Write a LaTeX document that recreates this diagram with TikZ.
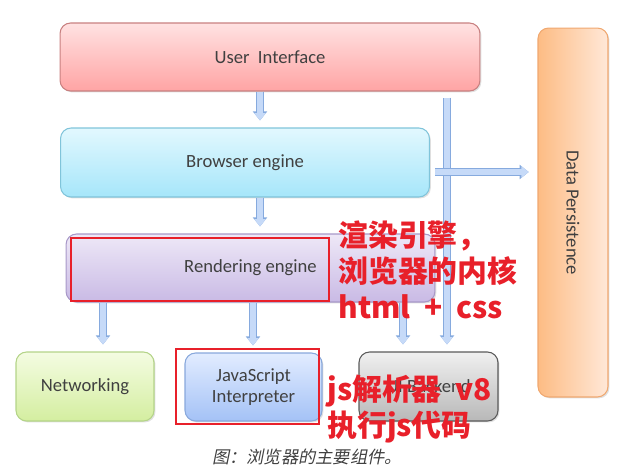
\documentclass[tikz,border=0pt]{standalone}
\usepackage{fontspec}
\usepackage{graphicx}
\setmainfont{Carlito}
\newfontfamily\cjk{Noto Sans CJK SC}
\newfontfamily\cjkcap{Noto Sans CJK SC}[FakeSlant=0.2]
\usetikzlibrary{arrows.meta,shadows}

\definecolor{uitop}{HTML}{FFE2E2}
\definecolor{uibot}{HTML}{FFA4A4}
\definecolor{uiedge}{HTML}{C88080}
\definecolor{brtop}{HTML}{E2F8FE}
\definecolor{brbot}{HTML}{A6E6FA}
\definecolor{bredge}{HTML}{80C4DA}
\definecolor{retop}{HTML}{EEE8F7}
\definecolor{rebot}{HTML}{C9BAE5}
\definecolor{reedge}{HTML}{A898C8}
\definecolor{nettop}{HTML}{F4FCE2}
\definecolor{netbot}{HTML}{D4EEA0}
\definecolor{netedge}{HTML}{B4D488}
\definecolor{jstop}{HTML}{E2ECFF}
\definecolor{jsbot}{HTML}{A4C2F6}
\definecolor{jsedge}{HTML}{88A8DC}
\definecolor{bktop}{HTML}{F0F0F0}
\definecolor{bkbot}{HTML}{B8B8B8}
\definecolor{bkedge}{HTML}{5A5A5A}
\definecolor{pdark}{HTML}{FDBC84}
\definecolor{plight}{HTML}{FFE8D8}
\definecolor{pedge}{HTML}{F0A870}
\definecolor{arrowfill}{HTML}{C6DAF8}
\definecolor{arrowedge}{HTML}{86AADE}
\definecolor{markred}{HTML}{E8202A}
\definecolor{capgray}{HTML}{404040}

\begin{document}
\begin{tikzpicture}[%
      x=0.02cm, y=-0.02cm,
      box/.style={draw, rounded corners=6pt, line width=0.6pt, text=capgray,
        font=\fontsize{10.6}{12.4}\selectfont,
        drop shadow={shadow xshift=0.8pt, shadow yshift=-0.8pt, opacity=0.25}},
      blockarrow/.style={draw=arrowfill, line width=3pt,
        -{Triangle[width=6.4pt,length=4.2pt]}, shorten >=4pt,
        preaction={draw=arrowedge, line width=4.2pt,
          -{Triangle[width=8pt,length=5.2pt]}}},
      markup/.style={draw=markred, line width=1.4pt},
      note/.style={text=markred, anchor=west, align=left, inner sep=0pt,
        font=\cjk\bfseries\fontsize{17}{20.6}\selectfont},
      ]
      \useasboundingbox (0,0) rectangle (625,467);

      % boxes
      \node[box, draw=uiedge, top color=uitop, bottom color=uibot,
        minimum width=8.4cm, minimum height=1.36cm] (ui) at (270,57) {User\ \ Interface};
      \node[box, draw=bredge, top color=brtop, bottom color=brbot,
        minimum width=7.38cm, minimum height=1.38cm] (browser) at (245,162.5) {Browser engine};
      \node[box, draw=reedge, top color=retop, bottom color=rebot,
        minimum width=7.38cm, minimum height=1.36cm] (render) at (250.5,268) {Rendering engine};
      \node[box, draw=netedge, top color=nettop, bottom color=netbot,
        minimum width=2.76cm, minimum height=1.38cm] (net) at (85,386.5) {Networking};
      \node[box, draw=jsedge, top color=jstop, bottom color=jsbot, align=center,
        minimum width=2.74cm, minimum height=1.36cm] (js) at (253.5,387) {JavaScript\\Interpreter};
      \node[box, draw=bkedge, top color=bktop, bottom color=bkbot,
        minimum width=2.78cm, minimum height=1.38cm] (backend) at (428.5,386.5) {UI Backend};
      \node[box, draw=pedge, left color=pdark, right color=plight,
        minimum width=1.4cm, minimum height=7.38cm] (persist) at (573,212.5) {\rotatebox{-90}{Data Persistence}};

      % arrow columns
      \coordinate (c1) at (260,0);
      \coordinate (c2) at (103,0);
      \coordinate (c3) at (253,0);
      \coordinate (c4) at (403,0);
      \coordinate (c5) at (447,0);
      \coordinate (r1) at (0,172);

      \draw[blockarrow] (ui.south -| c1) -- (browser.north -| c1);
      \draw[blockarrow] (browser.south -| c1) -- (render.north -| c1);
      \draw[blockarrow] (render.south -| c2) -- (net.north -| c2);
      \draw[blockarrow] (render.south -| c3) -- (js.north -| c3);
      \draw[blockarrow] (render.south -| c4) -- (backend.north -| c4);
      \draw[blockarrow, shorten <=3.5pt] (ui.south -| c5) -- (backend.north -| c5);
      \draw[blockarrow, shorten <=3pt, shorten >=5pt] (browser.east |- r1) -- (persist.west |- r1);

      % red markup
      \draw[markup] (71,238) rectangle (329,301);
      \draw[markup] (176,349) rectangle (319,424);

      \node[note] (note1) at (338,270) {渲染引擎，\\浏览器的内核\\html\ \ +\ \ css};
      \node[note] (note2) at (327,409) {js解析器\ \ v8\\执行js代码};

      \node[text=capgray, font=\cjkcap\fontsize{9.8}{11}\selectfont] (caption) at (307,457) {图：浏览器的主要组件。};
\end{tikzpicture}
\end{document}
